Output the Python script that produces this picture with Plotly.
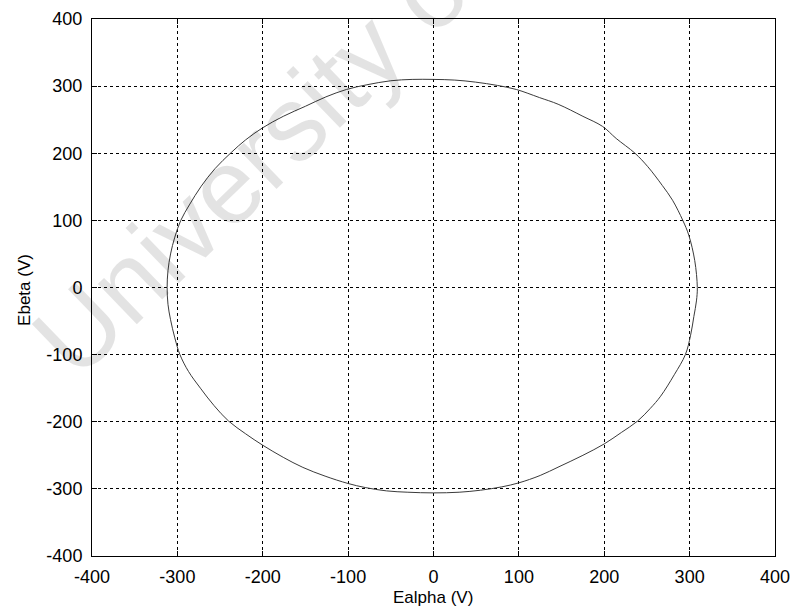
import plotly.graph_objects as go

# Space-vector locus (Ealpha, Ebeta in volts)
ealpha = [309, 306, 299, 292, 280, 268, 251, 236, 214, 198, 175, 146, 124, 97, 75, 49, 25, 0,
          -25, -50, -78, -102, -126, -150, -176, -200, -220, -237, -256, -272, -286, -296,
          -303, -308, -311, -312,
          -311, -308, -303, -297, -287, -273, -257, -240, -220, -200, -176, -153, -127, -100,
          -80, -55, -30, 0,
          30, 55, 80, 100, 125, 147, 175, 200, 220, 239, 254, 266, 282, 295, 301, 305, 308, 309]
ebeta = [0, 40, 78, 100, 130, 152, 180, 200, 222, 240, 255, 273, 283, 295, 301, 306, 309, 310,
         310, 308, 302, 295, 284, 270, 255, 238, 220, 201, 177, 151, 123, 100,
         75, 50, 25, 0,
         -25, -48, -75, -100, -125, -150, -176, -199, -218, -235, -253, -268, -281, -292,
         -298, -303, -305, -306,
         -305, -302, -297, -291, -280, -267, -250, -233, -216, -199, -180, -162, -130, -100, -72, -43, -20, 0]

tick_vals = [-400, -300, -200, -100, 0, 100, 200, 300, 400]
tick_text = ["-400", "-300", "-200", "-100", "0", "100", "200", "300", "400"]

FONT = "Liberation Sans, Arial"

fig = go.Figure()
fig.add_trace(go.Scatter(x=ealpha, y=ebeta, mode="lines",
                         line=dict(color="#3a3a3a", width=1, shape="spline", smoothing=1),
                         showlegend=False, hoverinfo="skip"))

axis_common = dict(
    range=[-400, 400], tickvals=tick_vals, ticktext=tick_text,
    showline=True, linecolor="black", linewidth=1, mirror="ticks",
    ticks="inside", ticklen=5, tickcolor="black",
    showgrid=True, gridcolor="black", gridwidth=1, griddash="3px,3px",
    zeroline=False, automargin=False,
    tickfont=dict(family=FONT, size=18, color="black"),
)

fig.update_xaxes(**axis_common, ticklabelstandoff=4)
fig.update_yaxes(**axis_common, ticklabelstandoff=5)

# axis titles
fig.add_annotation(text="Ealpha (V)", xref="paper", yref="paper", x=0.499, y=-0.078,
                   xanchor="center", yanchor="middle", showarrow=False,
                   font=dict(family=FONT, size=17, color="black"))
fig.add_annotation(text="Ebeta (V)", xref="paper", yref="paper", x=-0.1, y=0.495,
                   xanchor="center", yanchor="middle", showarrow=False, textangle=-90,
                   font=dict(family=FONT, size=17, color="black"))

# faint scanned-document watermark
fig.add_annotation(text="University of", xref="paper", yref="paper",
                   x=0.247, y=0.75, xanchor="center", yanchor="middle",
                   showarrow=False, textangle=-44,
                   font=dict(family=FONT, size=106, color="rgba(0,0,0,0.11)"))

fig.update_layout(width=793, height=608,
                  margin=dict(l=92, r=18, t=19, b=52),
                  paper_bgcolor="white", plot_bgcolor="white")

fig.write_html("out.html", config={"displayModeBar": False},
               post_script="document.body.style.margin='0';document.body.style.overflow='hidden';")
